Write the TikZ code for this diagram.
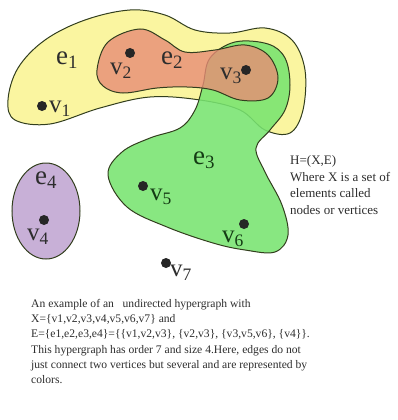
\documentclass[tikz,border=0pt]{standalone}
\usepackage{fontspec}
\setmainfont{Liberation Serif}
\newfontfamily\tms{Liberation Serif}
\definecolor{yel}{RGB}{250,245,160}
\definecolor{sal}{RGB}{232,140,118}
\definecolor{grn}{RGB}{120,228,112}
\definecolor{pur}{RGB}{200,176,215}
\definecolor{edgec}{RGB}{50,62,30}
\definecolor{txt}{RGB}{45,45,45}
\definecolor{gtxt}{RGB}{20,60,20}
\tikzset{
  hedge/.style={draw=edgec, line width=1pt},
  vdot/.style={circle, fill=black!85, inner sep=0pt, minimum size=10pt},
  elab/.style={font=\tms\fontsize{27}{27}\selectfont, text=txt, inner sep=0pt},
  vlab/.style={font=\tms\fontsize{25}{25}\selectfont, text=txt, inner sep=0pt},
  side/.style={font=\tms\fontsize{13}{16.8}\selectfont, text=txt, align=left, inner sep=0pt, anchor=north west},
  body/.style={font=\tms\fontsize{11.6}{15.3}\selectfont, text=txt, align=left, inner sep=0pt, anchor=north west}
}
\begin{document}
\begin{tikzpicture}[x=1pt, y=-1pt]
\useasboundingbox (0,0) rectangle (398,420);
% e1 yellow
\draw[hedge, fill=yel] plot[smooth cycle, tension=0.6] coordinates {
 (8,100) (18,68) (45,40) (85,20) (130,10) (165,15) (195,30) (230,33) (265,28)
 (292,40) (305,70) (303,110) (290,133) (265,130) (240,110) (200,100) (150,97)
 (100,108) (50,124) (15,120)};
% e3 green
\draw[hedge, fill=grn, fill opacity=0.88] plot[smooth cycle, tension=0.6] coordinates {
 (235,42) (268,44) (285,58) (290,85) (285,110) (270,130) (256,148) (265,172)
 (282,205) (288,235) (275,252) (245,250) (213,243) (167,227) (127,207) (108,175)
 (122,152) (150,138) (180,128) (195,110) (203,85) (210,58)};
% e2 red
\draw[hedge, fill=sal, fill opacity=0.8] plot[smooth cycle, tension=0.6] coordinates {
 (97,70) (108,42) (140,29) (165,40) (185,52) (215,50) (245,45) (268,55) (278,78)
 (268,98) (240,100) (213,90) (187,87) (157,88) (123,93) (103,86)};
% e4 purple
\draw[hedge, fill=pur] (46,211) ellipse [x radius=34, y radius=48];

% vertices
\node[vdot] (v1) at (42,106) {};
\node[vdot] (v2) at (130,53) {};
\node[vdot] (v3) at (246,70) {};
\node[vdot] (v4) at (44,220) {};
\node[vdot] (v5) at (143,186) {};
\node[vdot] (v6) at (244,224) {};
\node[vdot] (v7) at (166,263) {};

% labels
\node[elab] (le1) at (67,60) {e\textsubscript{1}};
\node[elab] (le2) at (172,60) {e\textsubscript{2}};
\node[elab, text=gtxt] (le3) at (204,160) {e\textsubscript{3}};
\node[elab] (le4) at (46,180) {e\textsubscript{4}};
\node[vlab] (lv1) at (60,109) {v\textsubscript{1}};
\node[vlab] (lv2) at (121,71) {v\textsubscript{2}};
\node[vlab] (lv3) at (231,76) {v\textsubscript{3}};
\node[vlab] (lv4) at (38,237) {v\textsubscript{4}};
\node[vlab, text=gtxt] (lv5) at (161,197) {v\textsubscript{5}};
\node[vlab, text=gtxt] (lv6) at (233,239) {v\textsubscript{6}};
\node[vlab] (lv7) at (181,273) {v\textsubscript{7}};

% side text
\node[side] (def) at (290,155) {H=(X,E)\\Where X is a set of\\elements called\\nodes or vertices};

% body text
\node[body] (cap) at (31,299) {An example of an \ \ undirected hypergraph with\\
X=\{v1,v2,v3,v4,v5,v6,v7\} and\\
E=\{e1,e2,e3,e4\}=\{\{v1,v2,v3\}, \{v2,v3\}, \{v3,v5,v6\}, \{v4\}\}.\\
This hypergraph has order 7 and size 4.Here, edges do not\\
just connect two vertices but several and are represented by\\
colors.};
\end{tikzpicture}
\end{document}
